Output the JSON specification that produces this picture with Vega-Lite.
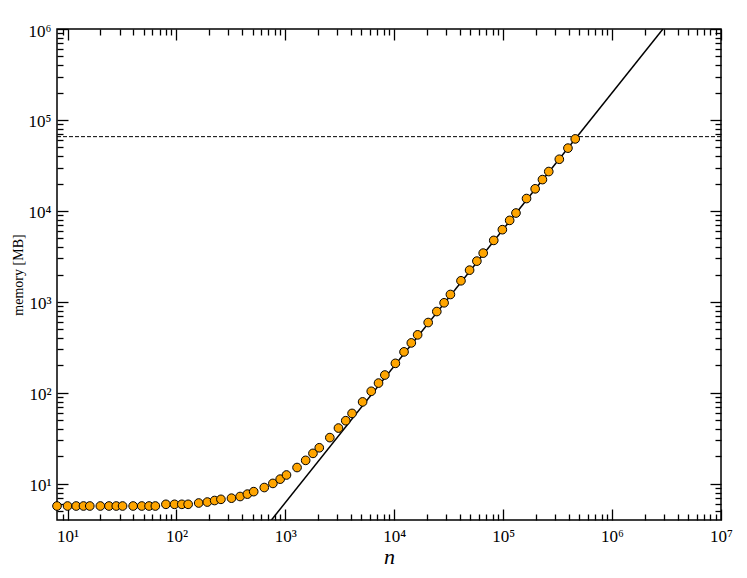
{
  "$schema": "https://vega.github.io/schema/vega-lite/v6.json",
  "width": 664,
  "height": 491,
  "autosize": "none",
  "padding": {"left": 57, "top": 29, "right": 26, "bottom": 58},
  "background": "white",
  "config": {
    "view": {"stroke": "black", "strokeWidth": 1.5},
    "font": "Liberation Serif",
    "axis": {
      "grid": false,
      "domain": false,
      "ticks": true,
      "tickColor": "black",
      "tickWidth": 1.3,
      "labelFont": "Liberation Serif",
      "labelFontSize": 17,
      "labelColor": "black",
      "labelOverlap": false,
      "labelFlush": false,
      "titleFont": "Liberation Serif",
      "titleColor": "black",
      "titleFontWeight": "normal"
    }
  },
  "datasets": {
    "pts": [
      {"n": 8, "mem": 5.7}, {"n": 10, "mem": 5.7}, {"n": 12, "mem": 5.7}, {"n": 14, "mem": 5.7},
      {"n": 16, "mem": 5.7}, {"n": 20, "mem": 5.7}, {"n": 24, "mem": 5.7}, {"n": 28, "mem": 5.7},
      {"n": 32, "mem": 5.7}, {"n": 40, "mem": 5.7}, {"n": 48, "mem": 5.7}, {"n": 56, "mem": 5.7},
      {"n": 64, "mem": 5.7}, {"n": 80, "mem": 5.95}, {"n": 96, "mem": 5.95}, {"n": 112, "mem": 5.95},
      {"n": 128, "mem": 5.95}, {"n": 160, "mem": 6.15}, {"n": 192, "mem": 6.3}, {"n": 224, "mem": 6.55},
      {"n": 256, "mem": 6.75}, {"n": 320, "mem": 6.95}, {"n": 384, "mem": 7.25}, {"n": 448, "mem": 7.7},
      {"n": 512, "mem": 8.2}, {"n": 640, "mem": 9.1}, {"n": 768, "mem": 10.1}, {"n": 896, "mem": 11.25},
      {"n": 1024, "mem": 12.5}, {"n": 1280, "mem": 15.1}, {"n": 1536, "mem": 18.1}, {"n": 1792, "mem": 21.6},
      {"n": 2048, "mem": 24.9}, {"n": 2560, "mem": 32.2}, {"n": 3072, "mem": 41}, {"n": 3584, "mem": 49.4},
      {"n": 4096, "mem": 59.4}, {"n": 5120, "mem": 79.5}, {"n": 6144, "mem": 104}, {"n": 7168, "mem": 128},
      {"n": 8192, "mem": 157}, {"n": 10240, "mem": 211}, {"n": 12288, "mem": 282}, {"n": 14336, "mem": 354},
      {"n": 16384, "mem": 434}, {"n": 20480, "mem": 593}, {"n": 24576, "mem": 783}, {"n": 28672, "mem": 977},
      {"n": 32768, "mem": 1206}, {"n": 40960, "mem": 1706}, {"n": 49152, "mem": 2233}, {"n": 57344, "mem": 2806},
      {"n": 65536, "mem": 3436}, {"n": 81920, "mem": 4742}, {"n": 98304, "mem": 6219}, {"n": 114688, "mem": 7870},
      {"n": 131072, "mem": 9480}, {"n": 163840, "mem": 13680}, {"n": 196608, "mem": 17500}, {"n": 229376, "mem": 22100},
      {"n": 262144, "mem": 27100}, {"n": 327680, "mem": 37000}, {"n": 393216, "mem": 49000}, {"n": 458752, "mem": 61900}
    ],
    "fit": [
      {"n": 745, "mem": 4},
      {"n": 2930000, "mem": 1000000}
    ],
    "limit": [
      {"mem": 65536}
    ]
  },
  "layer": [
    {
      "data": {"name": "limit"},
      "mark": {"type": "rule", "color": "black", "strokeWidth": 1, "strokeDash": [4, 2]},
      "encoding": {
        "y": {"field": "mem", "type": "quantitative", "scale": {"type": "log", "domain": [4, 1000000], "nice": false}, "axis": null}
      }
    },
    {
      "data": {"name": "fit"},
      "mark": {"type": "line", "color": "black", "strokeWidth": 1.5, "clip": true},
      "encoding": {
        "x": {
          "field": "n", "type": "quantitative",
          "scale": {"type": "log", "domain": [8, 10000000], "nice": false},
          "axis": {
            "orient": "top", "title": null, "labels": false,
            "values": [9,10,20,30,40,50,60,70,80,90,100,200,300,400,500,600,700,800,900,1000,2000,3000,4000,5000,6000,7000,8000,9000,10000,20000,30000,40000,50000,60000,70000,80000,90000,100000,200000,300000,400000,500000,600000,700000,800000,900000,1000000,2000000,3000000,4000000,5000000,6000000,7000000,8000000,9000000,10000000],
            "tickSize": {"condition": {"test": "abs(log(datum.value)/LN10 - round(log(datum.value)/LN10)) < 0.000001", "value": -11}, "value": -6}
          }
        },
        "y": {
          "field": "mem", "type": "quantitative",
          "scale": {"type": "log", "domain": [4, 1000000], "nice": false},
          "axis": {
            "orient": "right", "title": null, "labels": false,
            "values": [5,6,7,8,9,10,20,30,40,50,60,70,80,90,100,200,300,400,500,600,700,800,900,1000,2000,3000,4000,5000,6000,7000,8000,9000,10000,20000,30000,40000,50000,60000,70000,80000,90000,100000,200000,300000,400000,500000,600000,700000,800000,900000,1000000],
            "tickSize": {"condition": {"test": "abs(log(datum.value)/LN10 - round(log(datum.value)/LN10)) < 0.000001", "value": -11}, "value": -6}
          }
        }
      }
    },
    {
      "data": {"name": "pts"},
      "mark": {"type": "circle", "fill": "#FFA500", "stroke": "black", "strokeWidth": 1, "size": 75, "opacity": 1},
      "encoding": {
        "x": {
          "field": "n", "type": "quantitative",
          "scale": {"type": "log", "domain": [8, 10000000], "nice": false},
          "axis": {
            "orient": "bottom", "title": "n",
            "titleFontSize": 22, "titleFontStyle": "italic",
            "titleX": 332, "titleY": 43, "titleBaseline": "alphabetic", "titleAlign": "center",
            "labelPadding": 19, "labelBaseline": "top", "labelAlign": "center",
            "labelExpr": "abs(log(datum.value)/LN10 - round(log(datum.value)/LN10)) < 0.000001 ? '10' + substring('⁰¹²³⁴⁵⁶⁷⁸⁹', round(log(datum.value)/LN10), round(log(datum.value)/LN10) + 1) : ''",
            "values": [9,10,20,30,40,50,60,70,80,90,100,200,300,400,500,600,700,800,900,1000,2000,3000,4000,5000,6000,7000,8000,9000,10000,20000,30000,40000,50000,60000,70000,80000,90000,100000,200000,300000,400000,500000,600000,700000,800000,900000,1000000,2000000,3000000,4000000,5000000,6000000,7000000,8000000,9000000,10000000],
            "tickSize": {"condition": {"test": "abs(log(datum.value)/LN10 - round(log(datum.value)/LN10)) < 0.000001", "value": -11}, "value": -6}
          }
        },
        "y": {
          "field": "mem", "type": "quantitative",
          "scale": {"type": "log", "domain": [4, 1000000], "nice": false},
          "axis": {
            "orient": "left", "title": "memory [MB]",
            "titleFontSize": 14, "titleAngle": -90,
            "titleX": -39, "titleY": 245.5, "titleBaseline": "middle", "titleAlign": "center",
            "labelPadding": 17, "labelAlign": "right", "labelBaseline": "middle", "labelOffset": 2,
            "labelExpr": "abs(log(datum.value)/LN10 - round(log(datum.value)/LN10)) < 0.000001 ? '10' + substring('⁰¹²³⁴⁵⁶⁷⁸⁹', round(log(datum.value)/LN10), round(log(datum.value)/LN10) + 1) : ''",
            "values": [5,6,7,8,9,10,20,30,40,50,60,70,80,90,100,200,300,400,500,600,700,800,900,1000,2000,3000,4000,5000,6000,7000,8000,9000,10000,20000,30000,40000,50000,60000,70000,80000,90000,100000,200000,300000,400000,500000,600000,700000,800000,900000,1000000],
            "tickSize": {"condition": {"test": "abs(log(datum.value)/LN10 - round(log(datum.value)/LN10)) < 0.000001", "value": -11}, "value": -6}
          }
        }
      }
    }
  ],
  "resolve": {"axis": {"x": "independent", "y": "independent"}}
}
